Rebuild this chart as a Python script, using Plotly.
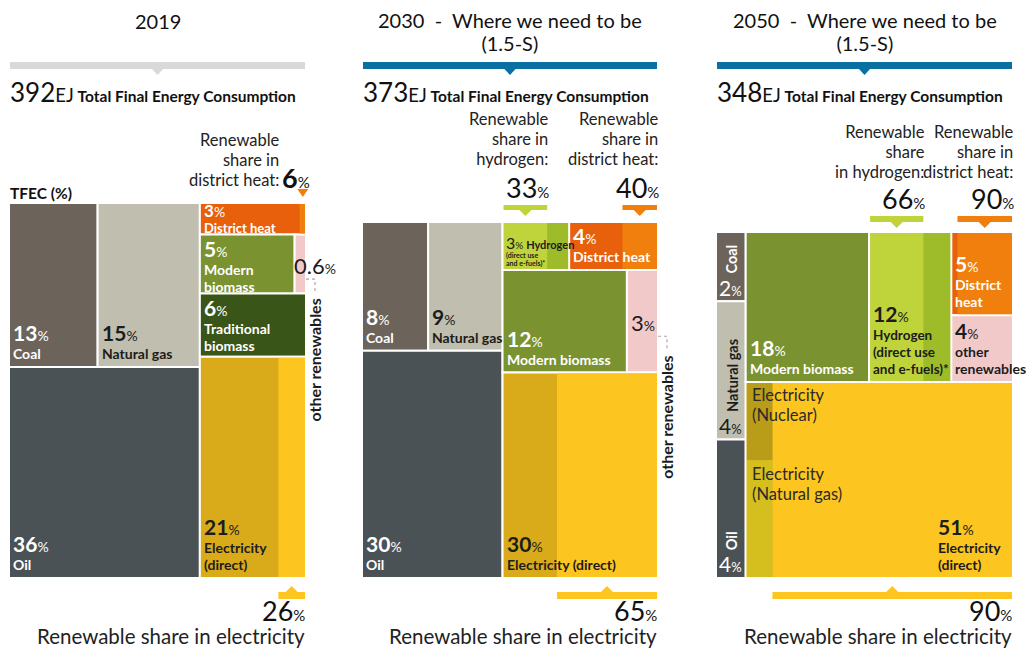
import plotly.graph_objects as go

FONT = "Lato, 'Open Sans', sans-serif"
DARK = "#1c1c1c"
WHITE = "#ffffff"

# ---------------- data ----------------
title_line1 = ["2019", "2030  -  Where we need to be", "2050  -  Where we need to be"]
title_line2 = ["", "(1.5-S)", "(1.5-S)"]
tfec_ej = [392, 373, 348]

cats_2019 = ["Coal", "Natural gas", "Oil", "District heat", "Modern biomass",
             "Other renewables", "Traditional biomass", "Electricity"]
share_2019 = [13, 15, 36, 3, 5, 0.6, 6, 21]

cats_2030 = ["Coal", "Natural gas", "Oil", "Hydrogen", "District heat",
             "Modern biomass", "Other renewables", "Electricity"]
share_2030 = [8, 9, 30, 3, 4, 12, 3, 30]

cats_2050 = ["Coal", "Natural gas", "Oil", "Modern biomass", "Hydrogen",
             "District heat", "Other renewables", "Electricity"]
share_2050 = [2, 4, 4, 18, 12, 5, 4, 51]

ren_share_electricity = [26, 65, 90]
ren_share_district_heat = [6, 40, 90]
ren_share_hydrogen = [None, 33, 66]
hydrogen_light_band = [None, 0.67, 0.66]      # width share of the light hydrogen band as drawn
elec_2050_nonren_parts = ["Nuclear", "Natural gas"]
elec_2050_nonren_split = [0.4, 0.6]           # height split of the non-renewable electricity strip

label_names = [
    {"Coal": ["Coal"], "Natural gas": ["Natural gas"], "Oil": ["Oil"],
     "District heat": ["District heat"], "Modern biomass": ["Modern", "biomass"],
     "Traditional biomass": ["Traditional", "biomass"], "Electricity": ["Electricity", "(direct)"]},
    {"Coal": ["Coal"], "Natural gas": ["Natural gas"], "Oil": ["Oil"],
     "District heat": ["District heat"], "Modern biomass": ["Modern biomass"],
     "Electricity": ["Electricity (direct)"]},
    {"Modern biomass": ["Modern biomass"], "Hydrogen": ["Hydrogen", "(direct use", "and e-fuels)*"],
     "District heat": ["District", "heat"], "Other renewables": ["other", "renewables"],
     "Electricity": ["Electricity", "(direct)"]},
]
white_text = {"Coal", "Oil", "District heat", "Modern biomass", "Traditional biomass"}

# ---------------- styling / layout ----------------
colors = {"Coal": "#6C645B", "Natural gas": "#C0BEAE", "Oil": "#4B5256",
          "District heat": "#E8600B", "Modern biomass": "#7A9230",
          "Other renewables": "#F2C9C9", "Traditional biomass": "#3A5518",
          "Electricity": "#D9AB1B", "Hydrogen": "#BFD33B"}
heat_ren_color = "#F07F0E"
elec_ren_color = "#FCC520"
h2_dark_color = "#9EBC2A"
nuclear_color = "#B99C17"
elec_gas_color = "#D5BF1F"
header_colors = ["#D9D9D9", "#0A70A2", "#0A70A2"]

trees = [
    ("h", [("v", [("h", ["Coal", "Natural gas"]), "Oil"]),
           ("v", ["District heat", ("h", ["Modern biomass", "Other renewables"]),
                  "Traditional biomass", "Electricity"])]),
    ("h", [("v", [("h", ["Coal", "Natural gas"]), "Oil"]),
           ("v", [("h", ["Hydrogen", "District heat"]),
                  ("h", ["Modern biomass", "Other renewables"]), "Electricity"])]),
    ("h", [("v", ["Coal", "Natural gas", "Oil"]),
           ("v", [("h", ["Modern biomass", "Hydrogen", ("v", ["District heat", "Other renewables"])]),
                  "Electricity"])]),
]
frames = [(9, 203, 306, 578), (362, 222, 658, 578), (716, 232, 1013, 578)]

DESC = 0.213   # font descent (em)
ASC = 0.987    # font ascent (em)
LS = 1.3       # plotly line spacing (em of base font)

shapes = []
annotations = []


def tsum(node, vals):
    if isinstance(node, str):
        return vals[node]
    return sum(tsum(c, vals) for c in node[1])


def layout_tree(node, vals, x0, y0, x1, y1, out):
    if isinstance(node, str):
        out[node] = (x0, y0, x1, y1)
        return
    d, kids = node
    tot = sum(tsum(k, vals) for k in kids)
    pos = x0 if d == "h" else y0
    for k in kids:
        frac = tsum(k, vals) / tot
        if d == "h":
            w = (x1 - x0) * frac
            layout_tree(k, vals, pos, y0, pos + w, y1, out)
            pos += w
        else:
            h = (y1 - y0) * frac
            layout_tree(k, vals, x0, pos, x1, pos + h, out)
            pos += h


def rect(x0, y0, x1, y1, fill, line=True):
    shapes.append(dict(type="rect", xref="x", yref="y", x0=x0, y0=y0, x1=x1, y1=y1,
                       fillcolor=fill, line=dict(color="white", width=2 if line else 0)))


def tri(cx, ybase, ytip, half, fill):
    shapes.append(dict(type="path", xref="x", yref="y",
                       path=f"M {cx-half},{ybase} L {cx+half},{ybase} L {cx},{ytip} Z",
                       fillcolor=fill, line=dict(width=0)))


def bar(xa, xb, ya, yb, color, down=True):
    rect(xa, ya, xb, yb, color, line=False)
    cx = (xa + xb) / 2
    if down:
        tri(cx, yb - 0.5, yb + 6, 6.5, color)
    else:
        tri(cx, ya + 0.5, ya - 6, 6.5, color)


def text(x, y, s, size, color=DARK, bold=False, xanchor="left", yanchor="middle", angle=0):
    align = "left" if xanchor == "left" else ("right" if xanchor == "right" else "center")
    annotations.append(dict(x=x, y=y, xref="x", yref="y", text=(f"<b>{s}</b>" if bold else s),
                            showarrow=False, xanchor=xanchor, yanchor=yanchor, textangle=angle,
                            align=align, font=dict(family=FONT, size=size, color=color),
                            borderpad=0, borderwidth=0))


def sz(s, size, bold=False):
    inner = f"<b>{s}</b>" if bold else s
    return f"<span style='font-size:{size}px'>{inner}</span>"


def pct(v, big, small, bold=True):
    return sz(f"{v:g}", big, bold) + sz("%", small)


def lines(items, size, bold=False):
    return "<br>".join(sz(t, size, bold) for t in items)


def stack(x, baseline_last, items, size, spacing, color, bold=False, xanchor="left"):
    """multi-line text whose last baseline sits at baseline_last; returns first baseline"""
    base = spacing / LS
    text(x, baseline_last + DESC * size, lines(items, size, bold), base, color,
         xanchor=xanchor, yanchor="bottom")
    return baseline_last - spacing * (len(items) - 1)


def number(x, baseline, value, big, small, color, bold=True, xanchor="left"):
    text(x, baseline + DESC * big, pct(value, big, small, bold), big, color,
         xanchor=xanchor, yanchor="bottom")


def block(x, y0, y1, value, names, color, name_size=14, num_size=21, gap=18.5, ns=16.8,
          bottom_pad=8, min_pad=1):
    last = y1 - bottom_pad
    top = last - ns * (len(names) - 1) - gap - ASC * num_size
    if top < y0 + 1:
        last = min(last + (y0 + 1 - top), y1 - min_pad)
    first = stack(x, last, names, name_size, ns, color, bold=True)
    number(x, first - gap, value, num_size, 14, color)


for p, (cats, vals) in enumerate([(cats_2019, share_2019), (cats_2030, share_2030),
                                  (cats_2050, share_2050)]):
    v = dict(zip(cats, vals))
    fx0, fy0, fx1, fy1 = frames[p]
    R = {}
    layout_tree(trees[p], v, fx0, fy0, fx1, fy1, R)

    # ---- header ----
    cx = (fx0 + fx1) / 2
    if title_line2[p]:
        stack(cx, 51, [title_line1[p], title_line2[p]], 20, 23, "#111", xanchor="center")
    else:
        stack(cx, 29, [title_line1[p]], 20, 23, "#111", xanchor="center")
    rect(fx0 + 1, 62, fx1 - 1, 69, header_colors[p], line=False)
    tri(cx, 68.5, 75, 6, header_colors[p])
    text(fx0 + 1, 92,
         f"{sz(tfec_ej[p], 26)}{sz('EJ', 18.5)} {sz('Total Final Energy Consumption', 15.5, True)}",
         15, "#111")
    if p == 0:
        text(fx0 + 1, 193, "TFEC (%)", 15.5, "#111", bold=True)

    # ---- rectangles ----
    for c in cats:
        x0, y0, x1, y1 = R[c]
        rect(x0, y0, x1, y1, colors[c])

    # district heat renewable part (right)
    x0, y0, x1, y1 = R["District heat"]
    dh_xs = x1 - (x1 - x0) * ren_share_district_heat[p] / 100
    rect(dh_xs, y0 + 1, x1 - 1, y1 - 1, heat_ren_color, line=False)

    # electricity renewable part (right)
    ex0, ey0, ex1, ey1 = R["Electricity"]
    el_xs = ex1 - (ex1 - ex0) * ren_share_electricity[p] / 100
    rect(el_xs, ey0 + 1, ex1 - 1, ey1 - 1, elec_ren_color, line=False)
    if p == 2:
        ysplit = ey0 + (ey1 - ey0) * elec_2050_nonren_split[0]
        rect(ex0 + 1, ey0 + 1, el_xs, ysplit, nuclear_color, line=False)
        rect(ex0 + 1, ysplit, el_xs, ey1 - 1, elec_gas_color, line=False)
        for yy, part in [(ey0, elec_2050_nonren_parts[0]), (ysplit, elec_2050_nonren_parts[1])]:
            stack(ex0 + 6, yy + 40, ["Electricity", f"({part})"], 16.5, 19.8, "#2a2a2a")

    # hydrogen bands
    if "Hydrogen" in R:
        hx0, hy0, hx1, hy1 = R["Hydrogen"]
        h_xs = hx0 + (hx1 - hx0) * hydrogen_light_band[p]
        rect(h_xs, hy0 + 1, hx1 - 1, hy1 - 1, h2_dark_color, line=False)

    # ---- labels inside rectangles ----
    for c, names in label_names[p].items():
        x0, y0, x1, y1 = R[c]
        col = WHITE if c in white_text else DARK
        lx = x0 + 4 if not (p == 2 and c == "Electricity") else x1 - 75
        if (y1 - y0) > 40:
            block(lx, y0, y1, v[c], names, col,
                  name_size=(13.5 if (p == 2 and c == "Hydrogen") else 14))
        else:
            block(lx, y0, y1, v[c], names, col, name_size=13, num_size=17, gap=16,
                  min_pad=1.5)

    if p == 1:
        hx0, hy0, hx1, hy1 = R["Hydrogen"]
        first = stack(hx0 + 3, hy1 - 3.5, ["(direct use", "and e-fuels)*"], 7, 8.4, DARK, bold=True)
        text(hx0 + 3, first - 9 + DESC * 16,
             pct(v["Hydrogen"], 16, 10, bold=False) + " " + sz("Hydrogen", 11, True), 11, DARK,
             yanchor="bottom")

    if p == 2:
        for c, col in [("Coal", WHITE), ("Natural gas", DARK), ("Oil", WHITE)]:
            x0, y0, x1, y1 = R[c]
            text((x0 + x1) / 2 + 1, y1 - 28, c, 14.5, col, bold=True, xanchor="center",
                 yanchor="bottom", angle=-90)
            number((x0 + x1) / 2, y1 - 6, v[c], 21, 13, col, bold=False, xanchor="center")

    # other renewables (small) callout
    if p in (0, 1):
        x0, y0, x1, y1 = R["Other renewables"]
        cy = (y0 + y1) / 2
        number(x0 + (-1 if p == 0 else 4), cy + 10, v["Other renewables"], 22, 14, DARK, bold=False)
        shapes.append(dict(type="path", xref="x", yref="y",
                           path=f"M {x1},{cy+15} L {x1+9},{cy+15} L {x1+9},{cy+30}",
                           line=dict(color="#A8A8A8", width=1.2, dash="dot")))
        text(x1 + 9, cy + 35, "other renewables", 16, DARK, bold=True, xanchor="center",
             yanchor="top", angle=-90)

    # ---- renewable share indicators (top) ----
    dhx0, dhy0, dhx1, dhy1 = R["District heat"]
    if p == 0:
        tcx = (dh_xs + dhx1) / 2
        tri(tcx, 189, 197, 5.5, heat_ren_color)
        stack(fx1 - 26, 186, ["Renewable", "share in", "district heat:"], 16.5, 19.8, "#222",
              xanchor="right")
        number(fx1 - 24, 188, ren_share_district_heat[p], 27, 15, "#111")
    else:
        ytop, ybot, ylast = (205, 210, 165) if p == 1 else (216, 222, 178)
        hx0, hy0, hx1, hy1 = R["Hydrogen"]
        h_xs = hx0 + (hx1 - hx0) * hydrogen_light_band[p]
        bar(hx0 + 1, h_xs, ytop, ybot, colors["Hydrogen"])
        bar(dh_xs, dhx1 - 1, ytop, ybot, heat_ren_color)
        h_lines = ["Renewable", "share in", "hydrogen:"] if p == 1 else ["Renewable", "share", "in hydrogen:"]
        stack(h_xs + 2, ylast, h_lines, 16.5, 19.8, "#222", xanchor="right")
        stack(dhx1 + 1, ylast, ["Renewable", "share in", "district heat:"], 16.5, 19.8, "#222",
              xanchor="right")
        number(h_xs + 2, ytop - 7, ren_share_hydrogen[p], 27, 15, "#111", bold=False, xanchor="right")
        number(dhx1 + 1, ytop - 7, ren_share_district_heat[p], 27, 15, "#111", bold=False,
               xanchor="right")

    # ---- renewable share in electricity (bottom) ----
    bar(el_xs, ex1 - 1, 592, 599, elec_ren_color, down=False)
    number(fx1 - 1, 621, ren_share_electricity[p], 27, 15, "#111", bold=False, xanchor="right")
    stack(fx1 - 1, 644, ["Renewable share in electricity"], 20.5, 24, "#222", xanchor="right")

fig = go.Figure()
fig.add_trace(go.Scatter(x=[0], y=[0], mode="markers", marker=dict(opacity=0),
                         hoverinfo="skip", showlegend=False))
fig.update_layout(width=1034, height=649, margin=dict(l=0, r=0, t=0, b=0),
                  paper_bgcolor="white", plot_bgcolor="white",
                  xaxis=dict(range=[0, 1034], visible=False, fixedrange=True),
                  yaxis=dict(range=[649, 0], visible=False, fixedrange=True),
                  shapes=shapes, annotations=annotations, showlegend=False)
fig.write_html("out.html", post_script="document.body.style.margin='0';",
               config={"displayModeBar": False})
